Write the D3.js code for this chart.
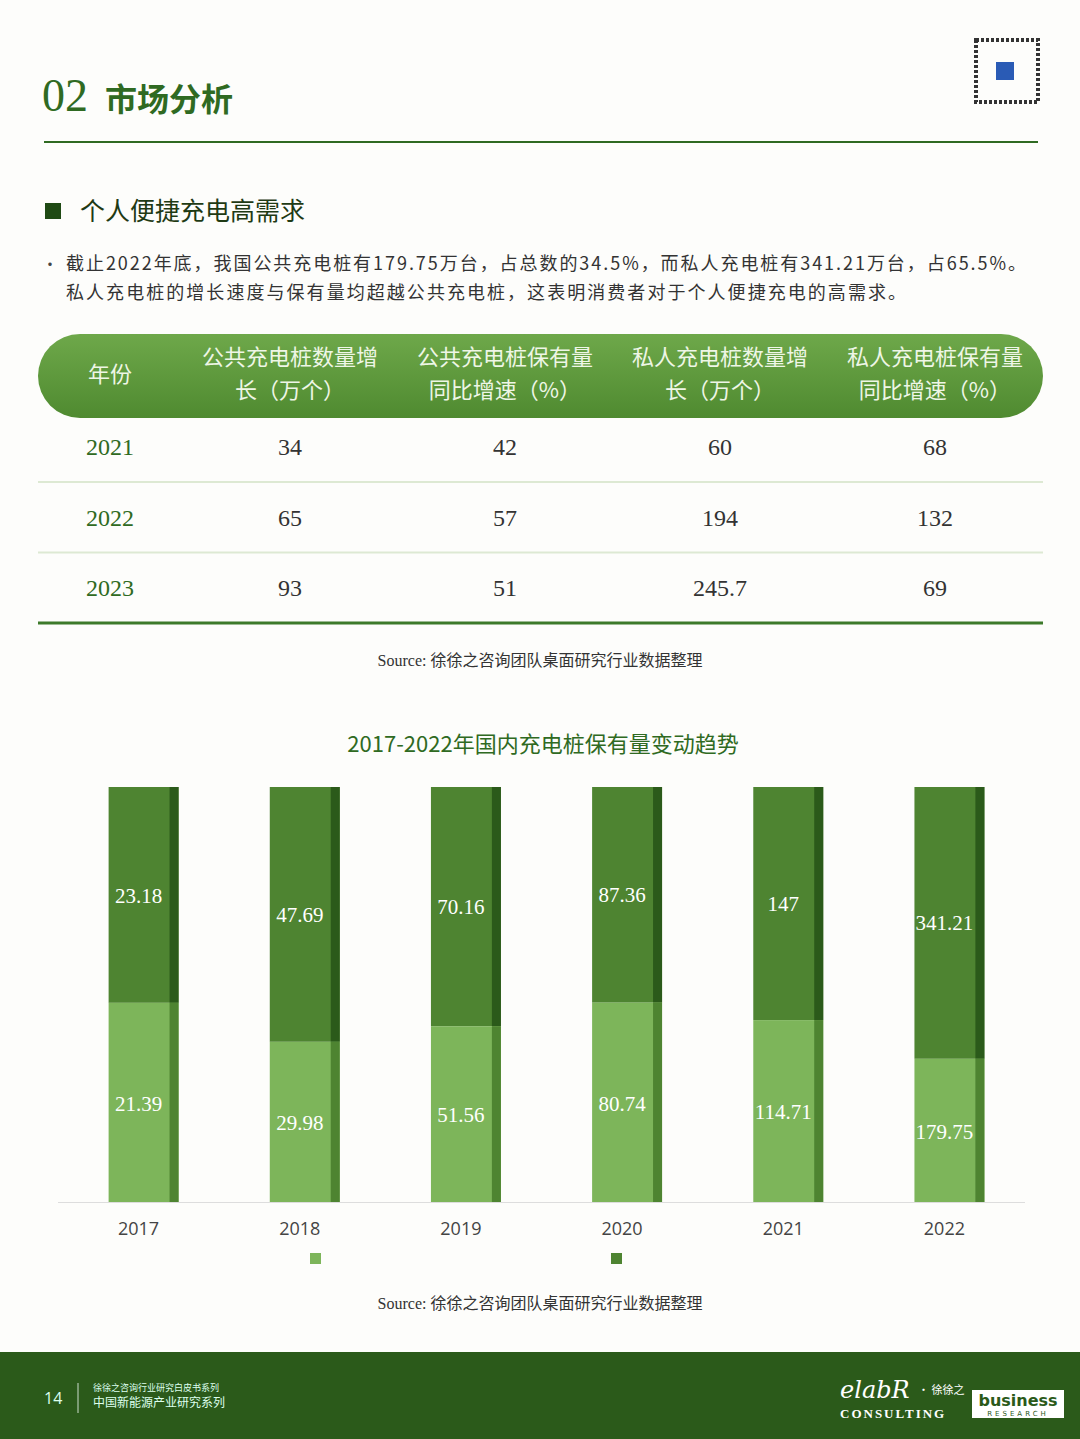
<!DOCTYPE html>
<html><head><meta charset="utf-8">
<script src="https://cdn.jsdelivr.net/npm/d3@7"></script>
<style>body{margin:0;background:#fdfdfb;}svg{display:block;}</style>
</head><body><svg id="c" width="1080" height="1439"></svg>
<script>
const years = ["2017","2018","2019","2020","2021","2022"];
const publicStock = [21.39,29.98,51.56,80.74,114.71,179.75];
const privateStock = [23.18,47.69,70.16,87.36,147,341.21];
const tableHeaders = [["年份"],["公共充电桩数量增","长（万个）"],["公共充电桩保有量","同比增速（%）"],["私人充电桩数量增","长（万个）"],["私人充电桩保有量","同比增速（%）"]];
const tableRows = [["2021","34","42","60","68"],["2022","65","57","194","132"],["2023","93","51","245.7","69"]];

const svg = d3.select("#c");
const CJK = "'Noto Sans CJK SC',sans-serif";
const SER = "'Liberation Serif','DejaVu Serif',serif";
const dark="#4e8431", light="#7db55a", deep="#2b5a1a";

svg.append("text").attr("x",42).attr("y",111).attr("font-family",SER).attr("font-size",46).attr("fill","#2f6a22").text("02");
svg.append("text").attr("x",105).attr("y",111).attr("font-family",CJK).attr("font-weight",700).attr("font-size",32).attr("fill","#2f6a22").text("市场分析");
svg.append("line").attr("x1",44).attr("x2",1038).attr("y1",142).attr("y2",142).attr("stroke","#2f6a22").attr("stroke-width",2);
svg.append("rect").attr("x",976).attr("y",40).attr("width",62).attr("height",62).attr("fill","none").attr("stroke","#333").attr("stroke-width",4).attr("stroke-dasharray","3 2");
svg.append("rect").attr("x",996).attr("y",62).attr("width",18).attr("height",18).attr("fill","#2a5bb5");

svg.append("rect").attr("x",45).attr("y",203).attr("width",16).attr("height",16).attr("fill","#1f4a14");
svg.append("text").attr("x",80).attr("y",220).attr("font-family",CJK).attr("font-size",25).attr("fill","#1f3a14").text("个人便捷充电高需求");
svg.append("text").attr("x",42).attr("y",270).attr("font-family",CJK).attr("font-size",16).attr("fill","#444").text("•");
svg.append("text").attr("x",66).attr("y",270).attr("font-family",CJK).attr("font-size",18).attr("fill","#333").attr("textLength",960).text("截止2022年底，我国公共充电桩有179.75万台，占总数的34.5%，而私人充电桩有341.21万台，占65.5%。");
svg.append("text").attr("x",66).attr("y",299).attr("font-family",CJK).attr("font-size",18).attr("fill","#333").attr("textLength",840).text("私人充电桩的增长速度与保有量均超越公共充电桩，这表明消费者对于个人便捷充电的高需求。");

const defs = svg.append("defs");
const g1 = defs.append("linearGradient").attr("id","hg").attr("x1",0).attr("x2",0).attr("y1",0).attr("y2",1);
g1.append("stop").attr("offset","0%").attr("stop-color","#6ea84a");
g1.append("stop").attr("offset","100%").attr("stop-color","#4f8a30");
svg.append("rect").attr("x",38).attr("y",334).attr("width",1005).attr("height",84).attr("rx",42).attr("fill","url(#hg)");
const colX = d3.scaleOrdinal().domain(d3.range(5)).range([110,290,505,720,935]);
tableHeaders.forEach((h,i)=>{
  h.forEach((t,j)=>{
    svg.append("text").attr("x",colX(i)).attr("y",h.length===1?382:365+j*33).attr("text-anchor","middle")
      .attr("font-family",CJK).attr("font-size",22).attr("fill","#eef6e6").text(t);
  });
});
const rowY = d3.scalePoint().domain(d3.range(3)).range([446,587]);
tableRows.forEach((r,ri)=>{
  r.forEach((t,ci)=>{
    svg.append("text").attr("x",colX(ci)).attr("y",rowY(ri)+9).attr("text-anchor","middle")
      .attr("font-family",SER).attr("font-size",24).attr("fill",ci===0?"#2f6a22":"#333").text(t);
  });
  if(ri<2) svg.append("line").attr("x1",38).attr("x2",1043).attr("y1",rowY(ri)+36).attr("y2",rowY(ri)+36).attr("stroke","#dde9d3").attr("stroke-width",2);
});
svg.append("line").attr("x1",38).attr("x2",1043).attr("y1",623).attr("y2",623).attr("stroke","#3d7a2a").attr("stroke-width",3);
[666,1309].forEach(y=>{
  const t=svg.append("text").attr("x",540).attr("y",y).attr("text-anchor","middle").attr("font-size",16).attr("fill","#333");
  t.append("tspan").attr("font-family",SER).text("Source: ");
  t.append("tspan").attr("font-family",CJK).text("徐徐之咨询团队桌面研究行业数据整理");
});

svg.append("text").attr("x",543).attr("y",752).attr("text-anchor","middle").attr("font-family",CJK).attr("font-size",22).attr("fill","#2f6a22").text("2017-2022年国内充电桩保有量变动趋势");
const x = d3.scaleBand().domain(years).range([63,1030]).paddingInner(0.566).paddingOuter(0.283);
const y = d3.scaleLinear().domain([0,1]).range([1202,787]);
svg.append("line").attr("x1",58).attr("x2",1025).attr("y1",1202.5).attr("y2",1202.5).attr("stroke","#ddd");
years.forEach((yr,i)=>{
  const tot = publicStock[i]+privateStock[i];
  const f = publicStock[i]/tot;
  const bx=x(yr), bw=x.bandwidth();
  svg.append("rect").attr("x",bx).attr("y",y(1)).attr("width",bw).attr("height",y(f)-y(1)).attr("fill",dark);
  svg.append("rect").attr("x",bx+bw-9).attr("y",y(1)).attr("width",9).attr("height",y(f)-y(1)).attr("fill",deep);
  svg.append("rect").attr("x",bx).attr("y",y(f)).attr("width",bw).attr("height",y(0)-y(f)).attr("fill",light);
  svg.append("rect").attr("x",bx+bw-9).attr("y",y(f)).attr("width",9).attr("height",y(0)-y(f)).attr("fill",dark);
  const cx=bx+bw/2-5;
  svg.append("text").attr("x",cx).attr("y",(y(1)+y(f))/2+(i===0?1:0)).attr("dy","0.35em").attr("text-anchor","middle").attr("font-family",SER).attr("font-size",21).attr("fill","#fff").text(privateStock[i]);
  svg.append("text").attr("x",cx).attr("y",(y(f)+y(0))/2+1).attr("dy","0.35em").attr("text-anchor","middle").attr("font-family",SER).attr("font-size",21).attr("fill","#fff").text(publicStock[i]);
  svg.append("text").attr("x",cx).attr("y",1235).attr("text-anchor","middle").attr("font-family","'Open Sans',sans-serif").attr("font-size",18).attr("fill","#444").text(yr);
});
svg.append("rect").attr("x",310).attr("y",1253).attr("width",11).attr("height",11).attr("fill",light);
svg.append("rect").attr("x",611).attr("y",1253).attr("width",11).attr("height",11).attr("fill",dark);

svg.append("rect").attr("x",0).attr("y",1352).attr("width",1080).attr("height",87).attr("fill","#2b5a1a");
svg.append("text").attr("x",44).attr("y",1404).attr("font-family","'Open Sans',sans-serif").attr("font-size",16).attr("fill","#dfe").text("14");
svg.append("line").attr("x1",78).attr("x2",78).attr("y1",1383).attr("y2",1413).attr("stroke","#cdc");
svg.append("text").attr("x",93).attr("y",1391).attr("font-family",CJK).attr("font-size",9).attr("fill","#dfe").text("徐徐之咨询行业研究白皮书系列");
svg.append("text").attr("x",93).attr("y",1407).attr("font-family",CJK).attr("font-size",12).attr("fill","#dfe").text("中国新能源产业研究系列");
svg.append("text").attr("x",840).attr("y",1398).attr("font-family","'DejaVu Serif',serif").attr("font-style","italic").attr("font-size",24).attr("fill","#fff").text("elabR");
svg.append("text").attr("x",918).attr("y",1394).attr("font-family",CJK).attr("font-size",11).attr("fill","#fff").text("· 徐徐之");
svg.append("text").attr("x",840).attr("y",1418).attr("font-family",SER).attr("font-weight",700).attr("font-size",13).attr("letter-spacing",2).attr("fill","#fff").text("CONSULTING");
svg.append("rect").attr("x",972).attr("y",1390).attr("width",92).attr("height",28).attr("fill","#fff");
svg.append("text").attr("x",1018).attr("y",1406).attr("text-anchor","middle").attr("font-family","'DejaVu Sans',sans-serif").attr("font-weight",700).attr("font-size",16).attr("fill","#2b5a1a").text("business");
svg.append("text").attr("x",1018).attr("y",1416).attr("text-anchor","middle").attr("font-family","'DejaVu Sans',sans-serif").attr("font-size",7).attr("letter-spacing",3).attr("fill","#2b5a1a").text("RESEARCH");
</script></body></html>
